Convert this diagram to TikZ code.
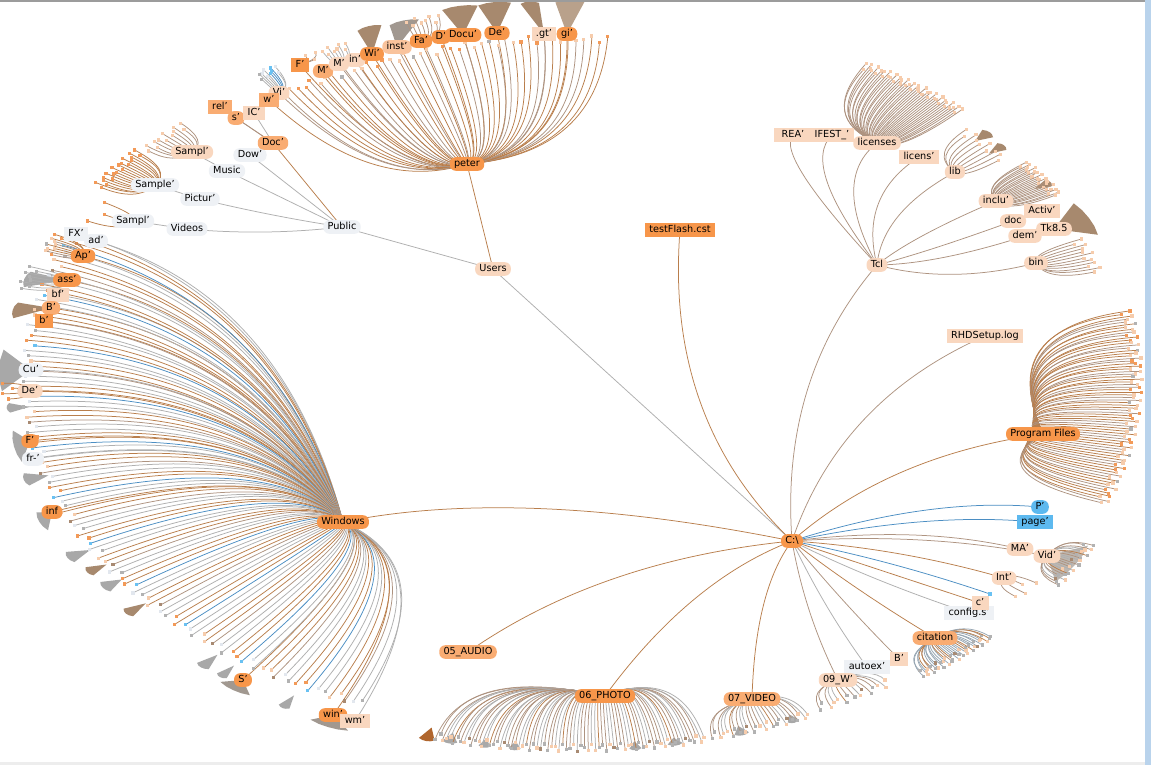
\documentclass[tikz,border=0pt]{standalone}
\usepackage{fontspec}
\setmainfont{DejaVu Sans}
\usetikzlibrary{calc}
\definecolor{cOr}{HTML}{F7964A}
\definecolor{cMo}{HTML}{F9AC72}
\definecolor{cLo}{HTML}{F9C39C}
\definecolor{cPe}{HTML}{F9D7BF}
\definecolor{cGy}{HTML}{EEF1F5}
\definecolor{cBl}{HTML}{5DB9EF}
\definecolor{eBr}{HTML}{B97E4C}
\definecolor{eGr}{HTML}{AFAFAF}
\definecolor{eTa}{HTML}{AE9380}
\definecolor{eBl}{HTML}{4B8EC3}
\definecolor{eGB}{HTML}{97A6B3}
\definecolor{lOr}{HTML}{F39A58}
\definecolor{lPe}{HTML}{F6CCAC}
\definecolor{lGy}{HTML}{B2B2B2}
\definecolor{lWh}{HTML}{E2E7EE}
\definecolor{lTa}{HTML}{A88A72}
\definecolor{lBl}{HTML}{69C1F2}
\definecolor{wGy}{HTML}{A8A8A8}
\definecolor{wTa}{HTML}{A7896E}
\definecolor{wGT}{HTML}{A19890}
\definecolor{wDB}{HTML}{B0662E}
\definecolor{frG}{HTML}{9C9C9C}
\definecolor{frB}{HTML}{B9D3EC}
\definecolor{frL}{HTML}{EDEDED}
\pgfdeclarelayer{back}
\pgfdeclarelayer{bg}
\pgfsetlayers{back,bg,main}
\tikzset{
  lab/.style={font=\fontsize{9.7}{11}\selectfont, text=black, inner xsep=4.3pt, inner ysep=2.2pt, text height=7.2pt, text depth=2pt},
  pill/.style={lab, rounded corners=6pt, fill=#1},
  boxn/.style={lab, fill=#1},
  edge/.style={line width=0.75pt},
}
% colour schemes for fans (index 0..9)
\def\sWe#1{\ifcase#1 eBr\or eGr\or eBr\or eGr\or eBl\or eBr\or eGr\or eBr\or eGr\or eTa\fi}
\def\sWl#1{\ifcase#1 lOr\or lWh\or lPe\or lGy\or lBl\or lPe\or lWh\or lOr\or lGy\or lTa\fi}
\def\sPe#1{\ifcase#1 eBr\or eTa\or eBr\or eTa\or eBr\or eBr\or eTa\or eBr\or eTa\or eBr\fi}
\def\sPl#1{\ifcase#1 lOr\or lPe\or lPe\or lOr\or lPe\or lGy\or lPe\or lOr\or lPe\or lPe\fi}
\def\sPh#1{\ifcase#1 eTa\or eGr\or eTa\or eGr\or eTa\or eBr\or eGr\or eTa\or eGr\or eTa\fi}
\def\sPhl#1{\ifcase#1 lGy\or lPe\or lGy\or lTa\or lPe\or lGy\or lPe\or lGy\or lPe\or lGy\fi}
\def\sCi#1{\ifcase#1 eGB\or eGB\or eBr\or eGB\or eGB\or eTa\or eGB\or eGB\or eBr\or eGB\fi}
\def\sVb#1{\ifcase#1 eGr\or eBl\or eGr\or eGr\or eBl\or eGr\or eGr\or eGr\or eBl\or eGr\fi}
\def\sVl#1{\ifcase#1 lWh\or lBl\or lWh\or lGy\or lBl\or lWh\or lGy\or lWh\or lBl\or lWh\fi}
\def\sTa#1{eTa}
\def\sTl#1{lPe}
\def\sGy#1{eGr}
\def\sGl#1{lGy}
\def\sBr#1{eBr}
\def\sOl#1{lOr}
\def\fk{1}
% quadratic connector with control point (#3,#4)
\newcommand\qcurve[5]{\draw[edge,draw=#5] (#1.center) .. controls ($(#1.center)!0.667!(#3,#4)$) and ($(#2.center)!0.667!(#3,#4)$) .. (#2.center);}
% radial connector: parent #1 at (#2,#3), child #4 at (#5,#6), colour #7
\newcommand\rcurve[7]{%
  \pgfmathsetmacro\fax{(#2-575)/570}%
  \pgfmathsetmacro\fay{(#3-380)/365}%
  \pgfmathsetmacro\frp{\fk*sqrt(\fax*\fax+\fay*\fay)}%
  \pgfmathsetmacro\fux{(#5-575)/570}%
  \pgfmathsetmacro\fuy{(#6-380)/365}%
  \pgfmathsetmacro\ful{sqrt(\fux*\fux+\fuy*\fuy)}%
  \pgfmathsetmacro\fqx{575+570*\frp*\fux/\ful}%
  \pgfmathsetmacro\fqy{380+365*\frp*\fuy/\ful}%
  \qcurve{#1}{#4}{\fqx}{\fqy}{#7}%
}
% fan of leaves: parent #1 at (#2,#3), angles #4..#5, count #6, radius #7, schemes #8 #9
\newcommand\rfan[9]{%
  \pgfmathsetmacro\fax{(#2-575)/570}%
  \pgfmathsetmacro\fay{(#3-380)/365}%
  \pgfmathsetmacro\frp{\fk*sqrt(\fax*\fax+\fay*\fay)}%
  \foreach \i in {1,...,#6}{%
    \pgfmathsetmacro\fth{#4+(#5-(#4))*(\i-1)/(#6-1)}%
    \pgfmathsetmacro\frr{#7+0.01*sin(\i*137)}%
    \pgfmathsetmacro\flx{575+570*\frr*cos(\fth)}%
    \pgfmathsetmacro\fly{380-365*\frr*sin(\fth)}%
    \pgfmathsetmacro\fqx{575+570*\frp*cos(\fth)}%
    \pgfmathsetmacro\fqy{380-365*\frp*sin(\fth)}%
    \pgfmathtruncatemacro\fidx{mod(\i*7+3,10)}%
    \edef\fec{#8{\fidx}}\edef\flc{#9{\fidx}}%
    \coordinate (#1-L\i) at (\flx,\fly);%
    \draw[edge,draw=\fec] (#1.center) .. controls ($(#1.center)!0.667!(\fqx,\fqy)$) and ($(#1-L\i)!0.667!(\fqx,\fqy)$) .. (#1-L\i);%
    \fill[\flc] ($(#1-L\i)+(-1.6,-1.6)$) rectangle ++(3.2,3.2);%
  }%
}
% dense wedge from a node out to the rim
\newcommand\wdgn[5]{%
  \fill[#5] (#1.center)
    -- ({575+570*#3*cos(#2-#4/2)},{380-365*#3*sin(#2-#4/2)})
    -- ({575+570*(#3+0.004)*cos(#2-#4/4)},{380-365*(#3+0.004)*sin(#2-#4/4)})
    -- ({575+570*(#3+0.005)*cos(#2)},{380-365*(#3+0.005)*sin(#2)})
    -- ({575+570*(#3+0.004)*cos(#2+#4/4)},{380-365*(#3+0.004)*sin(#2+#4/4)})
    -- ({575+570*#3*cos(#2+#4/2)},{380-365*#3*sin(#2+#4/2)}) -- cycle;}
\newcommand\wdgc[6]{%
  \coordinate (#1) at ({575+570*#3*cos(#2)},{380-365*#3*sin(#2)});%
  \wdgn{#1}{#2}{#4}{#5}{#6}}
\begin{document}
\begin{tikzpicture}[x=1pt,y=-1pt]
\useasboundingbox (0,0) rectangle (1151,765);
\begin{pgfonlayer}{back}
\fill[white] (0,0) rectangle (1151,765);
\end{pgfonlayer}
% ---------- nodes ----------
\node[pill=cOr] (C) at (792,541) {C:\textbackslash};
\node[pill=cOr] (Win) at (343,522) {Windows};
\node[pill=cOr] (PF) at (1043,434) {Program Files};
\node[pill=cPe] (Users) at (493,269) {Users};
\node[boxn=cOr] (TF) at (680,230) {testFlash.cst};
\node[pill=cPe] (Tcl) at (877,265) {Tcl};
\node[boxn=cPe] (RHD) at (985,336) {RHDSetup.log};
\node[pill=cBl] (Pq) at (1040,507) {P'};
\node[boxn=cBl] (page) at (1035,522) {page'};
\node[pill=cPe] (MA) at (1020,549) {MA'};
\node[pill=cPe] (Vid) at (1047,556) {Vid'};
\node[pill=cPe] (Int) at (1004,578) {Int'};
\node[boxn=cGy] (config) at (969,613) {config.s'};
\node[boxn=cPe] (cc) at (980,603) {c'};
\node[pill=cMo] (cit) at (935,638) {citation};
\node[boxn=cGy] (autoex) at (867,667) {autoex'};
\node[boxn=cPe] (Br) at (899,659) {B'};
\node[pill=cPe] (W09) at (838,680) {09\_W'};
\node[pill=cMo] (V07) at (752,699) {07\_VIDEO};
\node[pill=cOr] (P06) at (605,696) {06\_PHOTO};
\node[pill=cMo] (A05) at (468,652) {05\_AUDIO};
% Users subtree
\node[pill=cOr] (peter) at (467,164) {peter};
\node[pill=cGy] (Public) at (342,227) {Public};
\node[pill=cGy] (Dow) at (250,155) {Dow'};
\node[pill=cMo] (Doc) at (273,143) {Doc'};
\node[pill=cGy] (Music) at (227,171) {Music};
\node[pill=cPe] (SamA) at (192,152) {Sampl'};
\node[pill=cGy] (Pic) at (200,199) {Pictur'};
\node[pill=cGy] (SamB) at (155,185) {Sample'};
\node[pill=cGy] (Videos) at (187,229) {Videos};
\node[pill=cGy] (SamC) at (133,221) {Sampl'};
\node[boxn=cMo] (rel) at (220,107) {rel'};
\node[pill=cMo] (s) at (236,118) {s'};
\node[boxn=cPe] (IC) at (254,113) {IC'};
% peter children
\node[pill=cPe] (Vi) at (279,93) {Vi'};
\node[boxn=cMo] (w) at (269,100) {w'};
\node[boxn=cOr] (Fp) at (300,65) {F'};
\node[pill=cMo] (M1) at (323,71) {M'};
\node[pill=cPe] (M2) at (339,64) {M'};
\node[pill=cPe] (inn) at (355,60) {in'};
\node[pill=cOr] (Wi) at (372,54) {Wi'};
\node[pill=cLo] (inst) at (397,47) {inst'};
\node[pill=cOr] (Fa) at (421,41) {Fa'};
\node[pill=cOr] (Dp) at (441,37) {D'};
\node[pill=cOr] (Docu) at (463,35) {Docu'};
\node[pill=cOr] (Dep) at (497,33) {De'};
\node[boxn=cPe] (gt) at (544,34) {.gt'};
\node[pill=cOr] (gi) at (567,34) {gi'};
% Windows children
\node[boxn=cGy] (FX) at (76,234) {FX'};
\node[pill=cGy] (ad) at (96,241) {ad'};
\node[pill=cOr] (Ap) at (83,256) {Ap'};
\node[pill=cOr] (ass) at (67,280) {ass'};
\node[boxn=cPe] (bf) at (58,295) {bf'};
\node[pill=cMo] (Bl) at (51,308) {B'};
\node[boxn=cOr] (bl) at (44,321) {b'};
\node[pill=cGy] (Cu) at (31,370) {Cu'};
\node[pill=cPe] (Dew) at (30,391) {De'};
\node[pill=cOr] (Fw) at (30,441) {F'};
\node[pill=cGy] (fr) at (33,459) {fr-'};
\node[pill=cOr] (inf) at (52,512) {inf};
\node[pill=cOr] (S) at (243,680) {S'};
\node[pill=cOr] (win) at (333,715) {win'};
\node[boxn=cPe] (wm) at (355,721) {wm'};
% Tcl children
\node[boxn=cPe,minimum width=38] (REA) at (793,135) {REA'};
\node[boxn=cPe,minimum width=38] (IFEST) at (832,135) {IFEST\_'};
\node[pill=cPe] (lic) at (877,143) {licenses};
\node[boxn=cPe] (licn) at (919,157) {licens'};
\node[pill=cPe] (lib) at (955,172) {lib};
\node[pill=cPe] (inclu) at (996,201) {inclu'};
\node[boxn=cPe] (Activ) at (1042,211) {Activ'};
\node[pill=cPe] (doc) at (1013,221) {doc};
\node[pill=cPe] (dem) at (1025,236) {dem'};
\node[pill=cPe] (Tk) at (1054,229) {Tk8.5};
\node[pill=cPe] (bin) at (1036,263) {bin};
% ---------- connectors ----------
\begin{pgfonlayer}{bg}
% wedges
\wdgn{Cu}{178.5}{1.006}{6.5}{wGy}
\wdgn{Fw}{190.5}{0.996}{5}{wGy}
\wdgn{ass}{164}{1.0}{2.5}{wGy}
\wdgn{Bl}{169}{1.0}{2.5}{wTa}
\wdgn{inf}{202.5}{1.012}{3}{wGy}
\wdgn{S}{234.8}{1.035}{3.5}{wGT}
\wdgn{win}{245.5}{1.04}{4}{wGT}
\wdgn{Docu}{101.2}{1.04}{3.5}{wTa}
\wdgn{Dep}{97.8}{1.04}{3.2}{wTa}
\wdgn{gt}{94.4}{1.035}{1.8}{wTa}
\wdgn{gi}{90.5}{1.035}{2.8}{wTa!80!white}
\wdgn{Wi}{110.5}{1.03}{2.5}{wTa}
\wdgn{inst}{107}{1.025}{3}{wGT}
\wdgn{Tk}{26.2}{1.0}{5.5}{wTa}
\wdgn{Vid}{-30}{1.008}{6.5}{wGT!70!white}
\wdgc{lbw1}{43}{0.96}{0.99}{1.6}{wTa}
\wdgc{lbw2}{40.5}{0.955}{0.985}{1.4}{wTa}
\wdgc{lbw3}{33}{0.96}{0.99}{1.2}{wTa}
\wdgc{lw1}{214.5}{0.965}{1.0}{1.8}{wGy}
\wdgc{lw2}{219.1}{0.97}{1.01}{1.5}{wTa}
\wdgc{lw3}{230.2}{0.98}{1.02}{1.5}{wGy}
\wdgc{lw4}{232.6}{0.985}{1.02}{1.2}{wGy}
\wdgc{lw5}{240.3}{0.995}{1.03}{1.2}{wGy}
\wdgc{lw6}{208.7}{0.97}{1.01}{1.8}{wGy}
\wdgc{lw7}{211.6}{0.965}{1.0}{1.5}{wTa}
\wdgc{lw8}{195.8}{0.96}{1.0}{2}{wGy}
\wdgc{lw9}{184.4}{0.96}{0.995}{1.5}{wGy}
\wdgc{pw1}{257.5}{0.99}{1.015}{1.5}{wGy}
\wdgc{pw2}{261}{0.995}{1.015}{1.2}{wGy}
\wdgc{pw3}{264}{0.995}{1.015}{1.2}{wGy}
\wdgc{pw4}{276}{0.995}{1.015}{1.2}{wGy}
\wdgc{pw5}{280}{0.995}{1.012}{1.5}{wGy}
\wdgc{pwd}{255.2}{0.985}{1.018}{1.6}{wDB}
\wdgc{vw1}{286.8}{0.99}{1.012}{1.5}{wGy}
\wdgc{vw2}{292.3}{0.99}{1.01}{1.2}{wGy}
% root connectors
\qcurve{C}{Win}{520}{486}{eBr}
\draw[edge,draw=eGr] (C.center) -- (Users.center);
\qcurve{C}{TF}{665}{420}{eBr}
\qcurve{C}{Tcl}{780}{378}{eTa}
\qcurve{C}{RHD}{840}{400}{eTa}
\qcurve{C}{PF}{890}{455}{eBr}
\qcurve{C}{Pq}{930}{497}{eBl}
\qcurve{C}{page}{930}{512}{eBl}
\qcurve{C}{MA}{920}{525}{eTa}
\qcurve{C}{Vid}{930}{532}{eTa}
\qcurve{C}{Int}{900}{548}{eBr}
\coordinate (cbl) at (990,594);
\qcurve{C}{cbl}{890}{560}{eBl}
\fill[lBl] ($(cbl)+(-2,-2)$) rectangle ++(4,4);
\qcurve{C}{cc}{880}{570}{eBr}
\qcurve{C}{config}{870}{580}{eGr}
\qcurve{C}{cit}{855}{590}{eBr}
\qcurve{C}{Br}{840}{600}{eTa}
\qcurve{C}{autoex}{825}{610}{eGr}
\qcurve{C}{W09}{805}{615}{eTa}
\qcurve{C}{V07}{755}{590}{eBr}
\qcurve{C}{P06}{690}{580}{eBr}
\qcurve{C}{A05}{600}{560}{eBr}
% Users subtree
\draw[edge,draw=eBr] (Users.center) -- (peter.center);
\draw[edge,draw=eGr] (Users.center) -- (Public.center);
\draw[edge,draw=eBr] (Public.center) -- (Doc.center);
\draw[edge,draw=eGr] (Public.center) -- (Dow.center);
\draw[edge,draw=eGr] (Public.center) -- (Music.center);
\qcurve{Public}{Pic}{270}{216}{eGr}
\qcurve{Public}{Videos}{265}{236}{eGr}
\draw[edge,draw=eGr] (Music.center) -- (SamA.center);
\draw[edge,draw=eGr] (Pic.center) -- (SamB.center);
\draw[edge,draw=eGr] (Videos.center) -- (SamC.center);
\draw[edge,draw=eTa] (Doc.center) -- (s.center);
\draw[edge,draw=eGr] (Doc.center) -- (IC.center);
\draw[edge,draw=eTa] (Doc.center) -- (rel.center);
% peter children
\rcurve{peter}{467}{164}{Vi}{279}{93}{eTa}
\rcurve{peter}{467}{164}{w}{269}{100}{eBr}
\rcurve{peter}{467}{164}{Fp}{300}{65}{eBr}
\rcurve{peter}{467}{164}{M1}{323}{71}{eBr}
\rcurve{peter}{467}{164}{M2}{339}{64}{eTa}
\rcurve{peter}{467}{164}{inn}{355}{60}{eTa}
\rcurve{peter}{467}{164}{Wi}{372}{54}{eBr}
\rcurve{peter}{467}{164}{inst}{397}{47}{eTa}
\rcurve{peter}{467}{164}{Fa}{421}{41}{eBr}
\rcurve{peter}{467}{164}{Dp}{441}{37}{eBr}
\rcurve{peter}{467}{164}{Docu}{463}{35}{eBr}
\rcurve{peter}{467}{164}{Dep}{497}{33}{eBr}
\rcurve{peter}{467}{164}{gt}{544}{34}{eTa}
\rcurve{peter}{467}{164}{gi}{567}{34}{eBr}
% Windows children
\rcurve{Win}{343}{522}{ad}{96}{241}{eGr}
\rcurve{Win}{343}{522}{FX}{76}{234}{eGr}
\rcurve{Win}{343}{522}{Ap}{83}{256}{eBr}
\rcurve{Win}{343}{522}{ass}{67}{280}{eBr}
\rcurve{Win}{343}{522}{bf}{58}{295}{eGr}
\rcurve{Win}{343}{522}{Bl}{51}{308}{eBr}
\rcurve{Win}{343}{522}{bl}{44}{321}{eBr}
\rcurve{Win}{343}{522}{Cu}{31}{370}{eGr}
\rcurve{Win}{343}{522}{Dew}{30}{391}{eBr}
\rcurve{Win}{343}{522}{Fw}{30}{441}{eBr}
\rcurve{Win}{343}{522}{fr}{33}{459}{eGr}
\rcurve{Win}{343}{522}{inf}{52}{512}{eBr}
\rcurve{Win}{343}{522}{S}{243}{680}{eBr}
\rcurve{Win}{343}{522}{win}{333}{715}{eBr}
\rcurve{Win}{343}{522}{wm}{355}{721}{eGr}
% Tcl children
\def\fk{1.15}
\rcurve{Tcl}{877}{265}{REA}{793}{135}{eTa}
\rcurve{Tcl}{877}{265}{IFEST}{832}{135}{eTa}
\rcurve{Tcl}{877}{265}{lic}{877}{143}{eTa}
\rcurve{Tcl}{877}{265}{licn}{919}{157}{eTa}
\rcurve{Tcl}{877}{265}{lib}{955}{172}{eTa}
\rcurve{Tcl}{877}{265}{inclu}{996}{201}{eTa}
\rcurve{Tcl}{877}{265}{doc}{1013}{221}{eTa}
\rcurve{Tcl}{877}{265}{dem}{1025}{236}{eTa}
\rcurve{Tcl}{877}{265}{bin}{1036}{263}{eTa}
\draw[edge,draw=eTa] (doc.center) -- (Activ.center);
\draw[edge,draw=eTa] (dem.center) -- (Tk.center);
% fans
\def\fk{1}
\rfan{Win}{343}{522}{156}{247}{110}{0.962}{\sWe}{\sWl}
\rfan{peter}{467}{164}{86.5}{123}{44}{0.935}{\sPe}{\sPl}
\def\fk{0.9}
\rfan{PF}{1043}{434}{11}{-20}{75}{0.985}{\sPe}{\sPl}
\def\fk{0.93}
\rfan{P06}{605}{696}{256}{283}{75}{1.008}{\sPh}{\sPhl}
\def\fk{1}
\rfan{V07}{752}{699}{283.8}{294}{25}{1.005}{\sPh}{\sPhl}
\rfan{W09}{838}{680}{295.5}{303.5}{15}{0.995}{\sPh}{\sPhl}
\rfan{cit}{935}{638}{-53}{-44}{38}{1.01}{\sCi}{\sPhl}
\rfan{Vid}{1047}{556}{-26.5}{-33.5}{22}{1.01}{\sPh}{\sPhl}
\rfan{Int}{1004}{578}{-34.5}{-37.5}{4}{0.975}{\sTa}{\sTl}
\rfan{lic}{877}{143}{59.5}{47.5}{45}{1.0}{\sTa}{\sTl}
\rfan{lib}{955}{172}{45}{39}{10}{0.965}{\sTa}{\sTl}
\rfan{inclu}{996}{201}{37}{31}{25}{0.985}{\sTa}{\sTl}
\rfan{bin}{1036}{263}{23.5}{18}{12}{0.962}{\sTa}{\sTl}
\rfan{SamA}{192}{152}{134.5}{140}{12}{0.98}{\sTa}{\sTl}
\rfan{SamB}{155}{185}{140.8}{147.6}{20}{0.99}{\sBr}{\sOl}
\rfan{SamC}{133}{221}{149.5}{153}{3}{0.952}{\sBr}{\sOl}
\rfan{Ap}{83}{256}{156.4}{159.5}{10}{0.99}{\sPe}{\sPl}
\rfan{ass}{67}{280}{162}{165.5}{8}{1.0}{\sGy}{\sGl}
\rfan{Dew}{30}{391}{180.5}{183}{4}{0.997}{\sBr}{\sOl}
\rfan{M2}{339}{64}{113.6}{116.2}{8}{1.0}{\sGy}{\sTl}
\rfan{Fa}{421}{41}{103.5}{106.8}{8}{1.02}{\sTa}{\sTl}
\rfan{Vi}{279}{93}{121.5}{123.7}{10}{1.0}{\sVb}{\sVl}
\rfan{Fp}{300}{65}{116.9}{119.1}{5}{1.0}{\sTa}{\sTl}
\end{pgfonlayer}
% frame
\fill[frG] (0,0) rectangle (1145,2);
\fill[frB] (1145,0) rectangle (1151,765);
\fill[frL] (0,762) rectangle (1145,765);
\end{tikzpicture}
\end{document}
